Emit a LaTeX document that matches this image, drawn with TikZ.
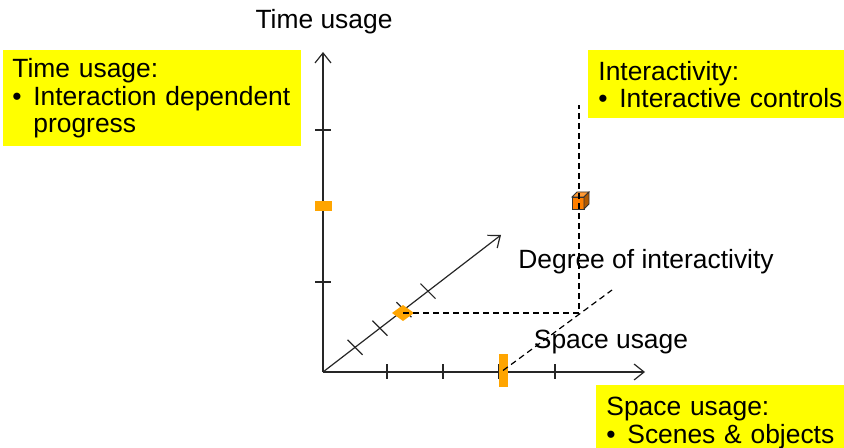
\documentclass[tikz,border=0pt]{standalone}
\usepackage{fontspec}
\setmainfont{Liberation Sans}
\usepackage{xcolor}
\usetikzlibrary{arrows.meta,calc,positioning}
\definecolor{noteY}{HTML}{FFFF00}
\definecolor{markO}{HTML}{FFA500}
\definecolor{cubeF}{HTML}{FF7F00}
\newcommand\bul{\makebox[10.5pt][l]{\textbullet}}

\begin{document}
\begin{tikzpicture}[x=0.5pt,y=-0.5pt,
  axis/.style={-{Straight Barb[length=5pt,width=8pt]},line width=0.6pt,draw=black!85},
  tick/.style={line width=0.6pt,draw=black!85},
  guide/.style={line width=0.6pt,dash pattern=on 3pt off 2pt},
  note/.style={fill=noteY,anchor=north west,align=left,inner xsep=5pt,inner ysep=0pt,
    font=\fontsize{13.2}{13.8}\selectfont},
  lab/.style={font=\fontsize{13.2}{13.8}\selectfont},
  bar/.style={fill=markO,inner sep=0pt}]
\useasboundingbox (0,0) rectangle (844,448);
\coordinate (o) at (323,372);
\coordinate (yend) at (323,52);
\coordinate (xend) at (645,372);
\coordinate (dend) at (501,235);
\draw[axis] (o) -- (yend);
\draw[axis] (o) -- (xend);
\draw[axis] (o) -- (dend);
\foreach \y in {130,206,282}
  \draw[tick] (315,\y) -- (331,\y);
\foreach \x in {387,443,499,555}
  \draw[tick] (\x,364) -- (\x,379);
\foreach \t in {0.18,0.32,0.455,0.59}
  \draw[tick] ($(o)!\t!(dend)+(-7.5,-7.5)$) -- ($(o)!\t!(dend)+(7.5,7.5)$);
% markers
\node[bar,minimum width=8.5pt,minimum height=5pt] (tm) at (323,206) {};
\node[bar,minimum width=4.5pt,minimum height=16.5pt] (sp) at (503,370.5) {};
\coordinate (deg) at (403,313);
\fill[markO] (deg) ++(-11,0) -- ++(11,-8) -- ++(11,8) -- ++(-11,8) -- cycle;
\coordinate (cb) at (579,201);
\filldraw[fill=cubeF,draw=black!80,line width=0.4pt] (572,197) rectangle (584,209);
\filldraw[fill=cubeF!80!white,draw=black!80,line width=0.4pt] (572,197) -- (577,192) -- (589,192) -- (584,197) -- cycle;
\filldraw[fill=cubeF!70!black,draw=black!80,line width=0.4pt] (584,197) -- (589,192) -- (589,204) -- (584,209) -- cycle;
\coordinate (crn) at (579,313);
\coordinate (top) at (579,105);
\coordinate (far) at (612,290);
\draw[guide] (deg) -- (crn) -- (top);
\draw[guide] (sp.center) -- (far);
% labels
\node[lab] (tl) at (324,22) {Time usage};
\node[lab] (dl) at (646,262) {Degree of interactivity};
\node[lab] (sl) at (611,342) {Space usage};
\node[note,inner xsep=4.5pt,text width=140pt,minimum height=48pt] (tn) at (3,50)
  {Time usage:\\\bul Interaction dependent\\\hspace*{10.5pt}progress};
\node[note,text width=130pt,minimum height=34pt] (in) at (588,50)
  {Interactivity:\\\bul Interactive controls};
\node[note,text width=130pt,minimum height=37.5pt] (sn) at (596,385)
  {Space usage:\\\bul Scenes \& objects};
\end{tikzpicture}
\end{document}
